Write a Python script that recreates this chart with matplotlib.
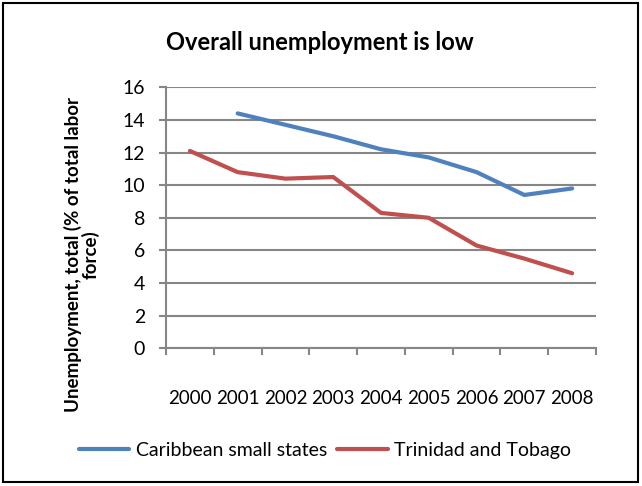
import matplotlib
matplotlib.use("Agg")
import matplotlib.pyplot as plt
from matplotlib.patches import Rectangle
import numpy as np

plt.rcParams['font.family'] = ['Lato', 'DejaVu Sans']

years = ["2000", "2001", "2002", "2003", "2004", "2005", "2006", "2007", "2008"]
caribbean = [np.nan, 14.4, 13.7, 13.0, 12.2, 11.7, 10.8, 9.4, 9.8]
trinidad = [12.1, 10.8, 10.4, 10.5, 8.3, 8.0, 6.3, 5.5, 4.6]
y_ticks = [0, 2, 4, 6, 8, 10, 12, 14, 16]

W, H = 642, 486
fig = plt.figure(figsize=(W / 100, H / 100), dpi=100)
ax = fig.add_axes([166 / W, 1 - 348.3 / H, (596 - 166) / W, (348.3 - 87.3) / H])

x = np.arange(len(years))
blue = "#4F81BD"
red = "#C0504D"
grid_col = "#868686"

ax.plot(x, caribbean, color=blue, lw=3, solid_capstyle="round", solid_joinstyle="round",
        label="Caribbean small states")
ax.plot(x, trinidad, color=red, lw=3, solid_capstyle="round", solid_joinstyle="round",
        label="Trinidad and Tobago")

ax.set_xlim(-0.5, len(years) - 0.5)
ax.set_ylim(0, 16)
ax.set_yticks(y_ticks)
ax.set_yticklabels([str(v) for v in y_ticks], fontsize=14)
ax.yaxis.grid(True, color=grid_col, lw=1.5)
ax.set_axisbelow(True)

# category labels sit between the boundary tick marks
ax.set_xticks(x)
ax.set_xticklabels(years, fontsize=13.5)
ax.tick_params(axis="x", which="major", length=0, pad=30)
ax.set_xticks(np.arange(-0.5, len(years)), minor=True)
ax.tick_params(axis="x", which="minor", length=5, width=1.5, color=grid_col)
ax.tick_params(axis="y", length=5, width=1.5, color=grid_col, pad=10)

for side in ("top", "right"):
    ax.spines[side].set_visible(False)
for side in ("left", "bottom"):
    ax.spines[side].set_color(grid_col)
    ax.spines[side].set_linewidth(1.5)

fig.text(320 / W, 1 - 43 / H, "Overall unemployment is low", fontsize=17,
         fontweight="bold", ha="center", va="center")
fig.text(82 / W, 1 - 255 / H, "Unemployment, total (% of total labor\nforce)",
         fontsize=13.5, fontweight="bold", rotation=90, ha="center", va="center",
         multialignment="center", linespacing=1.0)

fig.legend(loc="center", bbox_to_anchor=(325 / W, 1 - 450 / H), ncol=2, frameon=False,
           fontsize=14, handlelength=2.6, handletextpad=0.35, columnspacing=0.5)

fig.patches.append(Rectangle((3 / W, 4 / H), (638 - 3) / W, (483 - 4) / H,
                             transform=fig.transFigure, fill=False, ec="black", lw=1.5))

fig.savefig("out.png", dpi=100)
